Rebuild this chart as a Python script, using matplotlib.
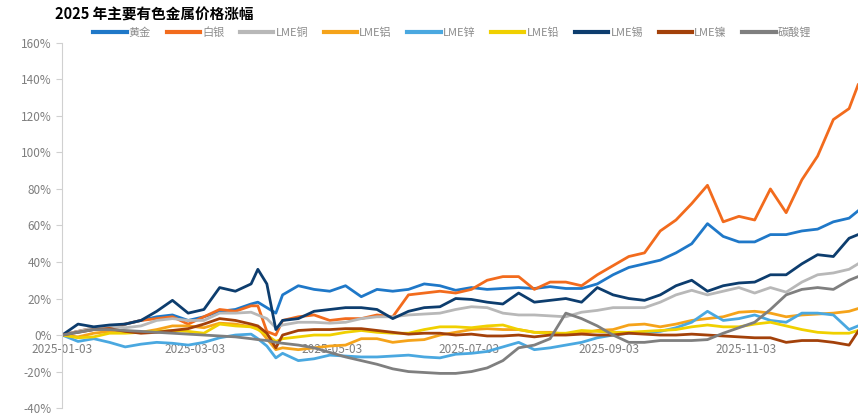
import matplotlib
matplotlib.use("Agg")
import matplotlib.pyplot as plt
import matplotlib.dates as mdates
import pandas as pd

plt.rcParams["font.family"] = ["Noto Sans CJK SC", "DejaVu Sans"]

dates = ["2025-01-03", "2025-01-10", "2025-01-17", "2025-01-24", "2025-01-31",
         "2025-02-07", "2025-02-14", "2025-02-21", "2025-02-28",
         "2025-03-07", "2025-03-14", "2025-03-21", "2025-03-28", "2025-03-31",
         "2025-04-04", "2025-04-08", "2025-04-11", "2025-04-18", "2025-04-25",
         "2025-05-02", "2025-05-09", "2025-05-16", "2025-05-23", "2025-05-30",
         "2025-06-06", "2025-06-13", "2025-06-20", "2025-06-27",
         "2025-07-04", "2025-07-11", "2025-07-18", "2025-07-25",
         "2025-08-01", "2025-08-08", "2025-08-15", "2025-08-22", "2025-08-29",
         "2025-09-05", "2025-09-12", "2025-09-19", "2025-09-26",
         "2025-10-03", "2025-10-10", "2025-10-17", "2025-10-24", "2025-10-31",
         "2025-11-07", "2025-11-14", "2025-11-21", "2025-11-28",
         "2025-12-05", "2025-12-12", "2025-12-19", "2025-12-23"]

# cumulative change since 2025-01-03, %
gold = [0, 2, 3, 4.5, 6, 8, 10, 11, 8,
        10, 13, 14, 17, 18,
        15, 12, 22, 27, 25,
        24, 27, 21, 25, 24,
        25, 28, 27, 24.5,
        26, 25, 25.5, 26,
        25.5, 26.5, 25.5, 25.5, 28,
        33, 37, 39, 41,
        45, 50, 61, 54, 51,
        51, 55, 55, 57,
        58, 62, 64, 68]
silver = [0, 2, 4, 4.5, 6, 8, 9, 10, 6,
          10, 14, 13, 16, 16,
          2, 0, 8, 10, 11,
          8, 9, 9, 11, 10,
          22, 23, 24, 23,
          25, 30, 32, 32,
          25, 29, 29, 27, 33,
          38, 43, 45, 57,
          63, 72, 82, 62, 65,
          63, 80, 67, 85,
          98, 118, 124, 137]
copper = [0, 2, 4, 5, 4, 5, 8, 9, 8,
          8, 12, 12, 12.5, 11,
          9, 4, 5.5, 7, 7,
          6.5, 7, 9, 10, 10,
          11, 11.5, 12, 14,
          15.5, 15, 12, 11,
          11, 10.5, 10, 12.5, 13.5,
          15, 15, 15, 18,
          22, 24.5, 22, 24, 26,
          23, 26, 23.5, 29,
          33, 34, 36, 39]
aluminium = [0, -1, 1, 2, 2, 1.5, 3, 5, 5,
             4, 6.5, 6, 4.5, 4,
             -2, -8, -7, -8, -7,
             -6, -5.5, -2, -2, -4,
             -3, -2.5, 0, 1.5,
             3, 3.5, 3, 3,
             1.5, 1.5, 0.5, 1, 2.5,
             3, 5.5, 6, 4.5,
             6, 8, 9, 10, 12.5,
             13, 12, 10, 11,
             11.5, 12, 13, 14.5]
zinc = [0, -3.5, -2, -4, -6.5, -5, -4, -4.5, -5.5,
        -4, -1.5, 0, 0.5, -2,
        -6, -12.5, -10, -14, -13,
        -11, -11.5, -12, -12, -11.5,
        -11, -12, -12.5, -10.5,
        -10, -9, -6.5, -4,
        -8, -7, -5.5, -4, -1.5,
        0, 1, 1.5, 2,
        4, 7, 13, 8, 9,
        11, 8, 7, 12,
        12, 11, 3, 5]
lead = [0, -1.5, -1, 1, 1, 1.5, 2, 2.5, 2,
        1, 6, 5, 4.5, 3,
        0, -3.5, -2, -1, 0,
        0, 1.5, 2.5, 1.5, 1,
        1, 3, 4.5, 4.5,
        4, 5, 5.5, 3,
        1.5, 1, 1, 2.5, 2,
        1.5, 1.5, 2, 2.5,
        3, 4.5, 5.5, 4.5, 4.5,
        6, 7, 5, 3,
        1.5, 1, 1, 2.5]
tin = [0, 6, 4.5, 5.5, 6, 8, 13, 19, 12,
       14, 26, 24, 28, 36,
       28, 3, 8, 9, 13,
       14, 15, 15, 14, 9,
       13, 15, 15.5, 20,
       19.5, 18, 17, 23,
       18, 19, 20, 18, 26,
       22, 20, 19, 22,
       27, 30, 24, 27, 28.5,
       29, 33, 33, 39,
       44, 43, 53, 55]
nickel = [0, 1.5, 3, 3.5, 2, 1, 1.5, 2.5, 3.5,
          6, 9, 8, 6, 5,
          1, -7, 0, 2.5, 3,
          3, 3.5, 3.5, 2.5, 1.5,
          0.5, 1, 1, 0,
          0.5, -0.5, -0.5, 0,
          -1, 0, 0, 0.5, 0,
          0, 1, 0.5, 0,
          0, 0.5, 0, -0.5, -1,
          -1.5, -1.5, -4, -3,
          -3, -4, -5.5, 2]
lithium = [0, 1.5, 3, 3, 2.5, 2, 1.5, 1, 0.5,
           0, -0.5, -1, -2, -2.5,
           -3, -4, -4.5, -5.5, -7,
           -9.5, -12, -14, -16, -18.5,
           -20, -20.5, -21, -21,
           -20, -18, -14, -7,
           -5.5, -2, 12, 9, 5,
           0, -4, -4, -3,
           -3, -3, -2.5, 1, 4,
           7, 14, 22, 25,
           26, 25, 30, 32]

labels = ["黄金", "白银", "LME铜", "LME铝", "LME锌", "LME铅", "LME锡", "LME镍", "碳酸锂"]
series = [gold, silver, copper, aluminium, zinc, lead, tin, nickel, lithium]
colors = ["#1f78c8", "#f26b1d", "#b8b8b8", "#f5a31a", "#4aa8e0",
          "#f0d000", "#0d3d6e", "#a3410a", "#7f7f7f"]
tick_dates = ["2025-01-03", "2025-03-03", "2025-05-03", "2025-07-03", "2025-09-03", "2025-11-03"]

x = pd.to_datetime(dates)

fig = plt.figure(figsize=(8.65, 4.16), dpi=100)
ax = fig.add_axes([0.072, 0.019, 0.92, 0.878])

for vals, lab, col in zip(series, labels, colors):
    ax.plot(x, vals, color=col, lw=2.0, label=lab)

ax.set_ylim(-40, 160)
ax.set_yticks(range(-40, 161, 20))
ax.set_yticklabels([f"{v}%" for v in range(-40, 161, 20)])
ax.set_xlim(x[0], x[-1])
ax.set_xticks(pd.to_datetime(tick_dates))
ax.xaxis.set_major_formatter(mdates.DateFormatter("%Y-%m-%d"))

for s in ["top", "right"]:
    ax.spines[s].set_visible(False)
ax.spines["left"].set_color("#d0d0d0")
ax.spines["bottom"].set_position(("data", 0))
ax.spines["bottom"].set_visible(False)
ax.tick_params(axis="y", colors="#d0d0d0", labelcolor="#7f7f7f", labelsize=8.5, length=4)
ax.tick_params(axis="x", length=0, labelcolor="#7f7f7f", labelsize=8.5, pad=6)

leg = ax.legend(loc="center", bbox_to_anchor=(0.49, 1.028), ncol=9, frameon=False,
                fontsize=8, handlelength=3.0, columnspacing=1.4, handletextpad=0.2,
                labelcolor="#8c8c8c")
for line in leg.get_lines():
    line.set_linewidth(3)

fig.text(0.064, 0.985, "2025 年主要有色金属价格涨幅", fontsize=10.5, fontweight="bold",
         va="top", ha="left")

fig.savefig("out.png", dpi=100)
